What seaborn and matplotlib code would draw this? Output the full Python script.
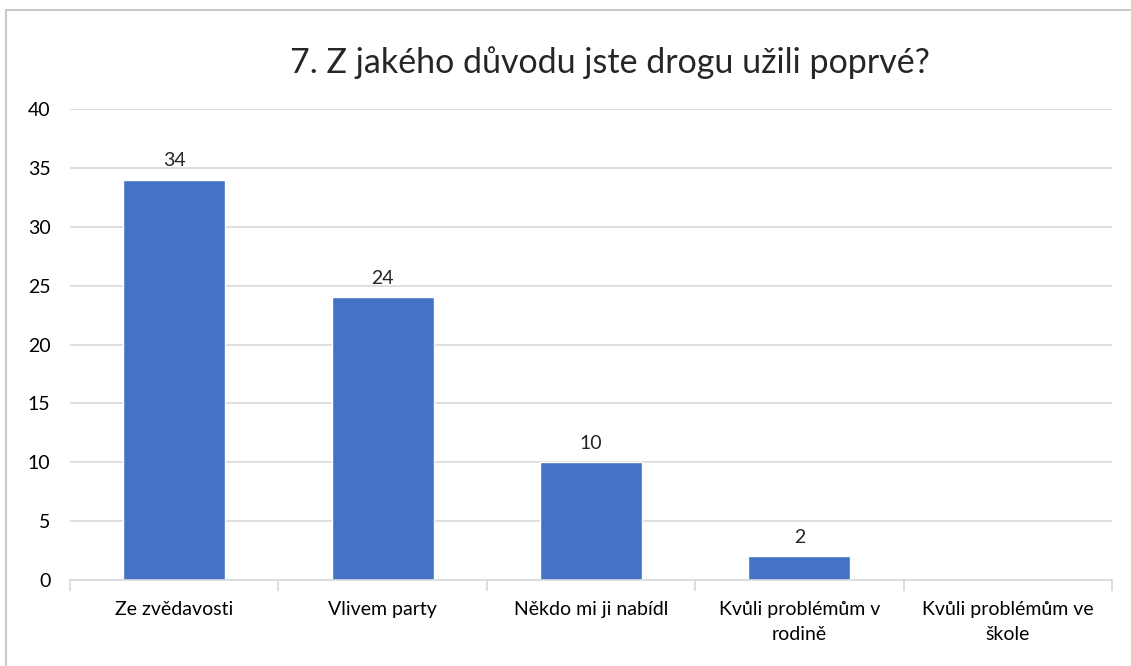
import matplotlib
matplotlib.use("Agg")
import matplotlib.pyplot as plt
import matplotlib.patches as mpatches
import seaborn as sns
import pandas as pd

categories = ["Ze zvědavosti", "Vlivem party", "Někdo mi ji nabídl",
              "Kvůli problémům v\nrodině", "Kvůli problémům ve\nškole"]
values = [34, 24, 10, 2, 0]
title = "7. Z jakého důvodu jste drogu užili poprvé?"

sns.set_style("white")
plt.rcParams["font.family"] = ["Lato", "DejaVu Sans"]

df = pd.DataFrame({"kategorie": categories, "pocet": values})

fig = plt.figure(figsize=(11.31, 6.66), dpi=100)
ax = fig.add_axes([70 / 1131, 86 / 666, 1042 / 1131, 471 / 666])

sns.barplot(data=df, x="kategorie", y="pocet", color="#4472C4", width=0.49,
            saturation=1, ax=ax)

ax.set_ylim(0, 40)
ax.set_xlim(-0.5, len(categories) - 0.5)
ax.set_yticks(range(0, 41, 5))
ax.yaxis.grid(True, color="#d9d9d9", linewidth=1.2)
ax.set_axisbelow(True)
for side in ["top", "right", "left"]:
    ax.spines[side].set_visible(False)
ax.spines["bottom"].set_color("#d9d9d9")
ax.spines["bottom"].set_linewidth(1.2)
ax.set_xlabel("")
ax.set_ylabel("")
ax.tick_params(axis="y", length=0, labelsize=14, pad=14, colors="#000000")
ax.tick_params(axis="x", length=0, labelsize=14, pad=15, colors="#000000")
for lbl in ax.get_xticklabels():
    lbl.set_linespacing(1.6)

# tick marks between categories, Excel style
ax.set_xticks([i - 0.5 for i in range(len(categories) + 1)], minor=True)
ax.tick_params(axis="x", which="minor", bottom=True, length=8,
               color="#d9d9d9", width=1.2)

for i, v in enumerate(values):
    if v > 0:
        ax.text(i, v + 0.9, str(v), ha="center", va="bottom", fontsize=14)

fig.text(610 / 1131, 1 - 63 / 666, title, ha="center", va="center", fontsize=24.5)

# chart border
fig.patches.append(mpatches.Rectangle((6 / 1131, -0.1), 1.2, 1 - 10 / 666 + 0.1,
                                      transform=fig.transFigure, fill=False,
                                      edgecolor="#bfbfbf", linewidth=1.2))

fig.savefig("out.png", dpi=100)
